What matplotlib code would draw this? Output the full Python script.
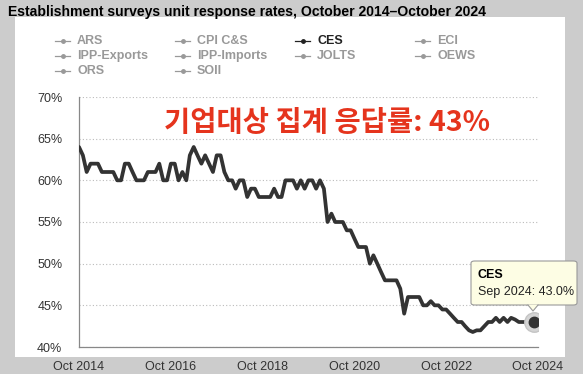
import matplotlib

matplotlib.use("Agg")
import matplotlib.pyplot as plt  # noqa: E402
import matplotlib.dates as mdates  # noqa: E402
import pandas as pd  # noqa: E402
from matplotlib.lines import Line2D  # noqa: E402
from matplotlib.patches import FancyBboxPatch, Polygon, Rectangle  # noqa: E402

plt.rcParams["font.family"] = ["Liberation Sans", "DejaVu Sans"]

# CES unit response rate (%), monthly Oct 2014 .. Sep 2024
ces_rate = [
    64, 63, 61, 62, 62, 62, 61, 61, 61, 61, 60, 60,
    62, 62, 61, 60, 60, 60, 61, 61, 61, 62, 60, 60,
    62, 62, 60, 61, 60, 63, 64, 63, 62, 63, 62, 61,
    63, 63, 61, 60, 60, 59, 60, 60, 58, 59, 59, 58,
    58, 58, 58, 59, 58, 58, 60, 60, 60, 59, 60, 59,
    60, 60, 59, 60, 59, 55, 56, 55, 55, 55, 54, 54,
    53, 52, 52, 52, 50, 51, 50, 49, 48, 48, 48, 48,
    47, 44, 46, 46, 46, 46, 45, 45, 45.5, 45, 45, 44.5,
    44.5, 44, 43.5, 43, 43, 42.5, 42, 41.8, 42, 42, 42.5, 43,
    43, 43.5, 43, 43.5, 43, 43.5, 43.3, 43, 43, 43, 43, 43,
]
months = pd.date_range("2014-10-01", periods=len(ces_rate), freq="MS")

legend_names = ["ARS", "CPI C&S", "CES", "ECI",
                "IPP-Exports", "IPP-Imports", "JOLTS", "OEWS",
                "ORS", "SOII"]
active = "CES"
y_ticks = [40, 45, 50, 55, 60, 65, 70]
x_tick_years = [2014, 2016, 2018, 2020, 2022, 2024]
headline = "기업대상 집계 응답률: 43%"
title = "Establishment surveys unit response rates, October 2014\u2013October 2024"

W, H = 583, 374


def px(x, y):
    return x / W, 1 - y / H


fig = plt.figure(figsize=(W / 100, H / 100), dpi=100)
fig.patch.set_facecolor("#cccccc")
fig.add_artist(Rectangle(px(15, 357), 550 / W, 340 / H, transform=fig.transFigure,
                         facecolor="white", edgecolor="none", zorder=0))

fig.text(*px(8, 12), title, fontsize=10.1, fontweight="bold", color="black",
         ha="left", va="center")

# legend, row-major, 4 columns
for k, name in enumerate(legend_names):
    col, row = k % 4, k // 4
    x0, y0 = 55 + col * 120, 41 + row * 15
    c = "#222222" if name == active else "#999999"
    fig.add_artist(Line2D([x0 / W, (x0 + 15) / W], [1 - y0 / H, 1 - y0 / H],
                          transform=fig.transFigure, color=c, lw=0.9))
    fig.add_artist(Line2D([(x0 + 7.5) / W], [1 - y0 / H], transform=fig.transFigure,
                          color=c, marker="o", ms=2.5, lw=0))
    fig.text(*px(x0 + 22, y0), name, fontsize=9, fontweight="bold", color=c,
             ha="left", va="center")

l, r, b, t = 79, 538, 347, 97
ax = fig.add_axes([l / W, 1 - b / H, (r - l) / W, (b - t) / H])
ax.set_facecolor("none")
ax.plot(months, ces_rate, color="#333333", lw=2.7, solid_joinstyle="round",
        solid_capstyle="round", zorder=3)
ax.plot(months[-1:], ces_rate[-1:], "o", ms=14, color="#d4d4d4", mec="#c4c4c4",
        zorder=4)
ax.plot(months[-1:], ces_rate[-1:], "o", ms=7.5, color="#333333", zorder=5)

ax.set_ylim(40, 70)
ax.set_yticks(y_ticks)
ax.set_yticklabels([f"{v}%" for v in y_ticks])
ax.set_xlim(pd.Timestamp("2014-10-01"), pd.Timestamp("2024-10-01"))
ax.set_xticks([pd.Timestamp(f"{y}-10-01") for y in x_tick_years])
ax.xaxis.set_major_formatter(mdates.DateFormatter("Oct %Y"))
ax.grid(axis="y", color="#bbbbbb", linestyle=(0, (1, 2)), lw=0.8)
for s in ["top", "right"]:
    ax.spines[s].set_visible(False)
for s in ["left", "bottom"]:
    ax.spines[s].set_color("#888888")
    ax.spines[s].set_linewidth(0.9)
ax.tick_params(length=0, labelsize=9, colors="#333333")
ax.tick_params(axis="x", pad=10)
ax.tick_params(axis="y", pad=12)

fig.text(*px(327, 123), headline, family=["Noto Sans CJK KR", "DejaVu Sans"],
         fontsize=20.5, fontweight="heavy", color="#e5341d", ha="center", va="center")

# tooltip
fig.add_artist(FancyBboxPatch(px(471, 305), 106 / W, 44 / H, transform=fig.transFigure,
                              boxstyle="round,pad=0,rounding_size=0.006",
                              facecolor="#fdfde4", edgecolor="#999999", lw=0.8, zorder=6))
fig.add_artist(Polygon([px(528, 304.6), px(538, 304.6), px(533, 311)], closed=True,
                       transform=fig.transFigure, facecolor="#fdfde4",
                       edgecolor="none", zorder=7))
fig.add_artist(Line2D([528 / W, 533 / W, 538 / W], [1 - 305 / H, 1 - 311 / H, 1 - 305 / H],
                      transform=fig.transFigure, color="#999999", lw=0.8, zorder=7))
fig.text(*px(478, 275), active, fontsize=9, fontweight="bold", color="black",
         ha="left", va="center", zorder=8)
fig.text(*px(478, 292), f"Sep 2024: {ces_rate[-1]:.1f}%", fontsize=9, color="#222222",
         ha="left", va="center", zorder=8)

fig.savefig("out.png", dpi=100, facecolor=fig.get_facecolor())
